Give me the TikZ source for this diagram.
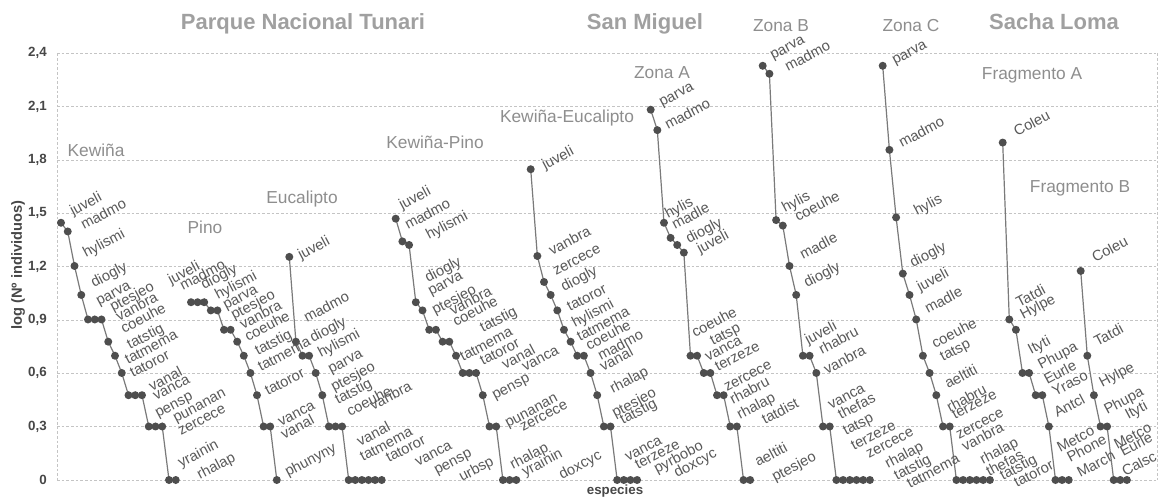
\documentclass[tikz,border=0pt]{standalone}
\usepackage{fontspec}
\setmainfont{Liberation Sans}
\definecolor{gridc}{HTML}{C4C4C4}
\definecolor{dotc}{HTML}{4E4E4E}
\definecolor{linec}{HTML}{7A7A7A}
\definecolor{labc}{HTML}{595959}
\definecolor{secc}{HTML}{8E8E8E}
\definecolor{titc}{HTML}{A0A0A0}
\definecolor{axc}{HTML}{474747}
\tikzset{
  gridline/.style={gridc, dash pattern=on 2pt off 1.5pt, line width=0.5pt},
  serline/.style={linec, line width=0.9pt},
  dot/.style={circle, fill=dotc, inner sep=0pt, minimum size=6pt},
  lab/.style={anchor=base west, rotate=28, inner sep=0pt, text=labc, font=\fontsize{11}{11}\selectfont},
  sect/.style={anchor=base, text=secc, font=\fontsize{13}{13}\selectfont, inner sep=0pt},
  ttl/.style={anchor=base, text=titc, font=\fontsize{16.5}{16.5}\selectfont\bfseries, inner sep=0pt},
  tick/.style={anchor=east, text=axc, font=\fontsize{10}{10}\selectfont\bfseries, inner sep=0pt},
}
\newcommand{\rankser}[4]{%
  \foreach \v [count=\i] in {#4}{\coordinate (#1\i) at ({#2+(\i-1)*#3},{480-177.78*\v});}
  \foreach \v [count=\i, remember=\i as \j (initially 0)] in {#4}{\ifnum\i>1 \draw[serline] (#1\j) -- (#1\i);\fi}
  \foreach \v [count=\i] in {#4}{\node[dot] (#1p\i) at (#1\i) {};}
}
\newcommand{\labset}[1]{\foreach \t/\x/\y in {#1}{\node[lab] (lb-\x-\y) at (\x+5,\y) {\t};}}
\begin{document}
\begin{tikzpicture}[x=0.75pt,y=-0.75pt]
\useasboundingbox (0,0) rectangle (1163,500);
\fill[white] (0,0) rectangle (1163,500);
% grid and axis
\foreach \g/\t [count=\k] in {0/0,0.3/{0,3},0.6/{0,6},0.9/{0,9},1.2/{1,2},1.5/{1,5},1.8/{1,8},2.1/{2,1},2.4/{2,4}}{
  \draw[gridline] (57,{480-177.78*\g}) -- (1157,{480-177.78*\g});
  \node[tick] (tick\k) at (47,{480-177.78*\g}) {\t};
}
\draw[gridline] (57,53.3) -- (57,480);
\draw[gridline] (1157,53.3) -- (1157,480);
\node[rotate=90, text=axc, font=\fontsize{11}{11}\selectfont\bfseries] (ytitle) at (18,265) {log (Nº individuos)};
\node[text=axc, font=\fontsize{10}{10}\selectfont\bfseries] (xtitle) at (615,491) {especies};
% titles
\node[ttl] (tPNT) at (303,29) {Parque Nacional Tunari};
\node[ttl] (tSM) at (645,29) {San Miguel};
\node[ttl] (tSL) at (1054,29) {Sacha Loma};
% section labels
\node[sect] (sKew) at (96,156) {Kewiña};
\node[sect] (sPino) at (205,233) {Pino};
\node[sect] (sEuc) at (302,203) {Eucalipto};
\node[sect] (sKP) at (435,148) {Kewiña-Pino};
\node[sect] (sKE) at (567,122) {Kewiña-Eucalipto};
\node[sect] (sZA) at (662,78) {Zona A};
\node[sect] (sZB) at (781,31) {Zona B};
\node[sect] (sZC) at (911,31) {Zona C};
\node[sect] (sFA) at (1032,79) {Fragmento A};
\node[sect] (sFB) at (1080,192) {Fragmento B};
% series
\rankser{K}{61}{6.75}{1.447,1.398,1.204,1.041,0.903,0.903,0.903,0.778,0.699,0.602,0.477,0.477,0.477,0.301,0.301,0.301,0,0}
\rankser{P}{191}{6.6}{1,1,1,0.954,0.954,0.845,0.845,0.778,0.699,0.602,0.477,0.301,0.301,0}
\rankser{E}{289.3}{6.6}{1.255,0.778,0.699,0.699,0.602,0.477,0.301,0.301,0.301,0,0,0,0,0,0}
\rankser{KP}{395.7}{6.7}{1.47,1.342,1.322,1,0.954,0.845,0.845,0.778,0.778,0.699,0.602,0.602,0.602,0.477,0.301,0.301,0,0,0}
\rankser{KE}{530.7}{6.65}{1.748,1.26,1.114,1.041,0.954,0.845,0.778,0.699,0.699,0.602,0.477,0.301,0.301,0,0,0,0}
\rankser{ZA}{650.7}{6.63}{2.083,1.968,1.447,1.362,1.322,1.279,0.699,0.699,0.602,0.602,0.477,0.477,0.301,0.301,0,0}
\rankser{ZB}{762.7}{6.7}{2.33,2.285,1.462,1.431,1.204,1.041,0.699,0.699,0.602,0.301,0.301,0,0,0,0,0,0}
\rankser{ZC}{882.7}{6.7}{2.33,1.857,1.477,1.161,1.041,0.903,0.699,0.602,0.477,0.301,0.301,0,0,0,0,0,0}
\rankser{FA}{1002.7}{6.6}{1.898,0.903,0.845,0.602,0.602,0.477,0.477,0.301,0,0,0}
\rankser{FB}{1080.7}{6.6}{1.176,0.699,0.477,0.301,0.301,0,0,0}
% point labels
\labset{juveli/68/216,madmo/79/230,hylismi/81/258,diogly/89/288,parva/94/306,ptesjeo/108/312,vanbra/114/322,coeuhe/119/334,tatstig/125/350,tatmema/123/365,tatoror/128/378,vanal/147/392,vanca/151/401,pensp/153/418,punanan/171/423,zercece/176/436,yrainin/176/468,rhalap/195/480}
\labset{juveli/166/285,madmo/178/291,diogly/199/290,hylismi/213/300,parva/221/310,ptesjeo/229/320,vanbra/238/330,coeuhe/243/342,tatstig/253/356,tatmema/256/372,tatoror/263/396,vanca/276/427,vanal/279/440,phunyny/283/477}
\labset{juveli/296/260,madmo/302/323,diogly/308/343,hylismi/316/358,parva/326/374,ptesjeo/329/392,tatstig/333/405,coeuhe/345/417,vanbra/368/411,vanal/355/447,tatmema/358/462,tatoror/384/463,vanca/413/467,pensp/432/475,urbsp/457/482}
\labset{juveli/397/210,madmo/403/230,hylismi/424/240,diogly/423/283,parva/426/296,ptesjeo/430/315,vanbra/448/316,coeuhe/451/327,tatstig/478/333,tatmema/458/362,tatoror/478/366,vanal/500/370,vanca/520/372,pensp/490/400,punanan/503/428,zercece/518/432,rhalap/508/470,yrainin/520/477,doxcyc/557/480}
\labset{juveli/540/170,vanbra/547/256,zercece/551/276,diogly/559/292,tatoror/565/312,hylismi/570/328,tatmema/575/342,coeuhe/584/351,madmo/596/361,vanal/598/372,rhalap/608/394,ptesjeo/610/418,tatstig/618/425,vanca/623/462,terzeze/633/470,pyrbobo/652/474,doxcyc/672/478}
\labset{parva/657/107,madmo/663/130,hylis/663/219,madle/670/230,diogly/684/244,juveli/695/254,coeuhe/690/338,tatsp/708/346,vanca/703/362,terzeze/713/372,zercece/722/392,rhabru/728/405,rhalap/735/420,tatdist/760/425,aeltiti/753/467,ptesjeo/770/482}
\labset{parva/768/60,madmo/783/72,hylis/780/213,coeuhe/793/222,madle/798/260,diogly/802/288,juveli/803/345,rhabru/817/355,vanbra/822/375,vanca/826/410,thefas/836/420,tatsp/841/436,terzeze/849/451,zercece/864/459,rhalap/883/469,tatstig/892/481,tatmema/905/489}
\labset{parva/890/65,madmo/897/148,hylis/912/216,diogly/908/268,juveli/915/292,madle/923/314,coeuhe/930/349,tatsp/938/362,aeltiti/943/389,rhabru/945/413,terzeze/950/420,zercece/954/440,vanbra/960/452,rhalap/978/465,thefas/984/477,tatstig/998/481,tatoror/1012/488}
\labset{Coleu/1012/137,Tatdi/1014/308,Hylpe/1018/320,Ityti/1026/355,Phupa/1036/370,Eurle/1042/385,Yraso/1050/397,Antcl/1052/418,Metco/1055/453,Phone/1065/463,March/1075/478}
\labset{Coleu/1090/263,Tatdi/1092/347,Hylpe/1097/388,Phupa/1102/415,Ityti/1123/420,Metco/1112/450,Eurle/1118/457,Calsc/1120/477}
\end{tikzpicture}
\end{document}
